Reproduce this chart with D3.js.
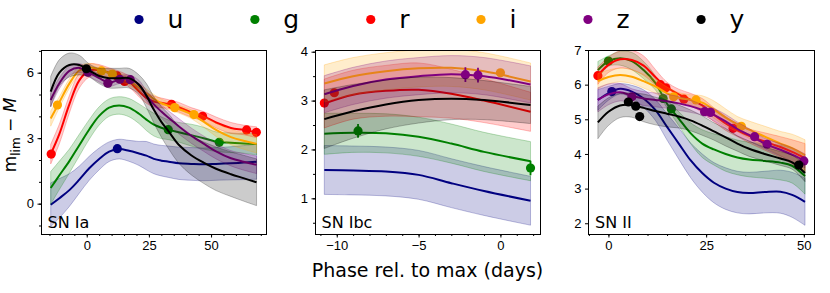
<!DOCTYPE html>
<html lang="en">
<head>
<meta charset="UTF-8">
<title>Limiting magnitude vs phase</title>
<script src="https://cdnjs.cloudflare.com/ajax/libs/d3/7.8.5/d3.min.js"></script>
<style>
  body { margin: 0; background: #fff; }
  svg { display: block; font-family: "DejaVu Sans", sans-serif; }
  .tick text { font-size: 13px; fill: #000; }
  .tick line { stroke: #000; }
  .domain { display: none; }
</style>
</head>
<body>
<svg id="chart" width="830" height="293"></svg>
<script>
const bands = ["u", "g", "r", "i", "z", "y"];
const bandColors = ["#000080", "#008000", "#ff0000", "#ffa500", "#800080", "#000000"];

// SN Ia : GP mean / 1-sigma on a phase grid, plus observed points [phase, mag, err]
const iaPhase = [-14.5, -11, -7, -3, 1, 5, 9, 13, 17, 21, 24, 27, 30, 33, 37, 42, 47, 52, 58, 63, 68.3];
const iaMean = {
  u: [-0.05, 0.25, 0.62, 1.1, 1.62, 2.05, 2.38, 2.5, 2.42, 2.3, 2.2, 2.05, 1.97, 1.92, 1.85, 1.82, 1.8, 1.82, 1.85, 1.88, 1.92],
  g: [0.72, 1.3, 1.95, 2.68, 3.4, 4.02, 4.4, 4.5, 4.4, 4.12, 3.85, 3.62, 3.48, 3.38, 3.27, 3.14, 3.0, 2.84, 2.79, 2.76, 2.73],
  r: [2.27, 3.2, 4.55, 5.65, 6.1, 6.12, 6.0, 5.85, 5.6, 5.15, 4.85, 4.68, 4.62, 4.56, 4.42, 4.18, 4.0, 3.72, 3.47, 3.38, 3.27],
  i: [3.9, 4.65, 5.5, 6.1, 6.25, 6.15, 5.98, 5.8, 5.62, 5.32, 5.05, 4.8, 4.6, 4.48, 4.33, 4.1, 3.76, 3.38, 3.05, 2.88, 2.74],
  z: [4.75, 5.52, 6.08, 6.22, 6.0, 5.75, 5.55, 5.68, 5.72, 5.45, 4.95, 4.55, 4.22, 3.92, 3.55, 3.12, 2.75, 2.4, 2.08, 1.92, 1.78],
  y: [5.13, 6.0, 6.35, 6.35, 6.1, 5.85, 5.75, 5.75, 5.75, 5.45, 4.95, 4.3, 3.75, 3.3, 2.7, 2.22, 1.88, 1.6, 1.35, 1.17, 0.98]
};
const iaSigma = {
  u: [1.0, 0.9, 0.75, 0.62, 0.55, 0.5, 0.45, 0.45, 0.48, 0.55, 0.65, 0.68, 0.7, 0.72, 0.74, 0.75, 0.75, 0.75, 0.76, 0.78, 0.8],
  g: [0.75, 0.65, 0.55, 0.5, 0.45, 0.42, 0.4, 0.4, 0.42, 0.45, 0.5, 0.52, 0.5, 0.45, 0.45, 0.5, 0.5, 0.45, 0.45, 0.45, 0.5],
  r: [0.45, 0.45, 0.4, 0.35, 0.3, 0.25, 0.22, 0.22, 0.25, 0.25, 0.25, 0.25, 0.22, 0.2, 0.22, 0.22, 0.22, 0.25, 0.25, 0.22, 0.25],
  i: [0.35, 0.25, 0.22, 0.2, 0.18, 0.18, 0.18, 0.18, 0.18, 0.18, 0.2, 0.2, 0.2, 0.18, 0.18, 0.2, 0.25, 0.3, 0.35, 0.38, 0.42],
  z: [0.3, 0.25, 0.22, 0.2, 0.18, 0.18, 0.18, 0.18, 0.18, 0.2, 0.22, 0.25, 0.3, 0.32, 0.35, 0.35, 0.35, 0.35, 0.35, 0.38, 0.4],
  y: [0.7, 0.6, 0.55, 0.45, 0.3, 0.35, 0.45, 0.45, 0.45, 0.45, 0.55, 0.6, 0.7, 0.8, 0.85, 0.9, 0.95, 1.0, 1.02, 1.05, 1.07]
};
const iaObs = {
  u: [[12.3, 2.52, 0.05]],
  g: [[32.8, 3.39, 0.05], [53.3, 2.81, 0.05]],
  r: [[-14.3, 2.27, 0.05], [12.2, 5.85, 0.05], [15.2, 5.6, 0.05], [34.1, 4.55, 0.05], [46.6, 4.0, 0.05], [64.3, 3.38, 0.05], [68.2, 3.27, 0.05]],
  i: [[-11.8, 4.52, 0.05], [5.9, 6.08, 0.05], [10.3, 5.94, 0.05], [35.4, 4.4, 0.05], [43.1, 4.08, 0.05]],
  z: [[0.5, 6.02, 0.05], [8.5, 5.52, 0.05], [13.3, 5.7, 0.05], [17.5, 5.68, 0.05]],
  y: [[-0.15, 6.18, 0.05]]
};

// SN Ibc
const ibcPhase = [-10.76, -9, -7, -5, -3, -1, 1.84];
const ibcMean = {
  u: [1.58, 1.57, 1.55, 1.48, 1.31, 1.15, 0.95],
  g: [2.32, 2.34, 2.33, 2.26, 2.12, 1.95, 1.76],
  r: [2.94, 3.12, 3.2, 3.22, 3.14, 3.0, 2.77],
  i: [3.35, 3.5, 3.6, 3.66, 3.67, 3.6, 3.39],
  z: [3.13, 3.3, 3.43, 3.5, 3.54, 3.5, 3.33],
  y: [2.62, 2.78, 2.92, 3.01, 3.04, 3.01, 2.91]
};
const ibcSigma = {
  u: [0.5, 0.5, 0.5, 0.5, 0.5, 0.5, 0.5],
  g: [0.42, 0.4, 0.4, 0.4, 0.4, 0.4, 0.4],
  r: [0.5, 0.5, 0.52, 0.55, 0.5, 0.45, 0.4],
  i: [0.38, 0.38, 0.38, 0.38, 0.38, 0.38, 0.38],
  z: [0.38, 0.38, 0.38, 0.38, 0.38, 0.38, 0.38],
  y: [0.6, 0.55, 0.5, 0.47, 0.43, 0.4, 0.38]
};
const ibcObs = {
  u: [],
  g: [[-8.7, 2.38, 0.14], [1.84, 1.62, 0.15]],
  r: [[-10.76, 2.95, 0.05], [-10.15, 3.16, 0.05]],
  i: [[0.0, 3.57, 0.05]],
  z: [[-2.14, 3.53, 0.15], [-1.37, 3.52, 0.15]],
  y: []
};

// SN II
const iiPhase = [-2.7, 0, 3, 6, 9, 12, 15, 18, 21, 24, 27, 30, 33, 36, 40, 44, 47, 50.3];
const iiMean = {
  u: [5.56, 5.75, 5.88, 5.8, 5.6, 5.27, 4.78, 4.3, 3.82, 3.45, 3.17, 3.0, 2.9, 2.87, 2.9, 2.91, 2.82, 2.62],
  g: [6.42, 6.68, 6.76, 6.68, 6.42, 6.05, 5.45, 5.02, 4.6, 4.3, 4.13, 4.0, 3.9, 3.84, 3.8, 3.75, 3.66, 3.36],
  r: [6.26, 6.57, 6.73, 6.71, 6.55, 6.22, 5.92, 5.72, 5.57, 5.4, 5.13, 4.88, 4.68, 4.52, 4.36, 4.2, 4.06, 3.88],
  i: [6.1, 6.22, 6.28, 6.23, 6.1, 5.95, 5.75, 5.62, 5.56, 5.48, 5.28, 5.05, 4.86, 4.7, 4.5, 4.3, 4.17, 3.96],
  z: [5.56, 5.72, 5.78, 5.68, 5.6, 5.56, 5.52, 5.46, 5.38, 5.27, 5.13, 4.94, 4.72, 4.55, 4.3, 4.12, 3.98, 3.8],
  y: [4.91, 5.22, 5.4, 5.41, 5.33, 5.24, 5.16, 5.08, 4.97, 4.82, 4.65, 4.48, 4.3, 4.15, 4.0, 3.87, 3.76, 3.45]
};
const iiSigma = {
  u: [0.3, 0.2, 0.15, 0.18, 0.25, 0.3, 0.38, 0.45, 0.5, 0.55, 0.58, 0.6, 0.6, 0.6, 0.6, 0.62, 0.65, 0.68],
  g: [0.25, 0.15, 0.2, 0.25, 0.25, 0.2, 0.12, 0.2, 0.3, 0.4, 0.45, 0.5, 0.5, 0.5, 0.5, 0.5, 0.5, 0.52],
  r: [0.25, 0.22, 0.25, 0.28, 0.28, 0.22, 0.15, 0.15, 0.18, 0.2, 0.2, 0.2, 0.18, 0.2, 0.25, 0.3, 0.35, 0.42],
  i: [0.22, 0.2, 0.2, 0.2, 0.2, 0.2, 0.18, 0.15, 0.15, 0.2, 0.25, 0.25, 0.22, 0.25, 0.3, 0.35, 0.4, 0.45],
  z: [0.35, 0.3, 0.25, 0.2, 0.2, 0.2, 0.2, 0.2, 0.18, 0.15, 0.18, 0.2, 0.2, 0.18, 0.15, 0.18, 0.2, 0.2],
  y: [0.47, 0.4, 0.35, 0.35, 0.4, 0.4, 0.38, 0.33, 0.3, 0.28, 0.25, 0.25, 0.22, 0.22, 0.2, 0.2, 0.2, 0.25]
};
const iiObs = {
  u: [[0.87, 5.8, 0.05]],
  g: [[0.0, 6.68, 0.05], [14.0, 5.6, 0.05], [16.1, 5.3, 0.05]],
  r: [[-2.7, 6.26, 0.05], [13.3, 6.0, 0.05], [14.7, 5.91, 0.05], [19.3, 5.58, 0.05], [31.9, 4.74, 0.05]],
  i: [[16.7, 5.65, 0.05], [22.4, 5.56, 0.05], [34.0, 4.8, 0.05]],
  z: [[6.0, 5.65, 0.05], [24.6, 5.22, 0.05], [26.1, 5.2, 0.05], [37.4, 4.5, 0.05], [40.6, 4.28, 0.05], [50.0, 3.8, 0.05]],
  y: [[5.1, 5.5, 0.05], [7.0, 5.38, 0.05], [8.0, 5.08, 0.05], [48.7, 3.68, 0.05]]
};

const panels = [
  { label: "SN Ia", phase: iaPhase, mean: iaMean, sigma: iaSigma, obs: iaObs,
    xDomain: [-18.4, 72.3], yDomain: [-1.39, 7.04],
    xMajor: [0, 25, 50], xMinor: d3.range(-15, 71, 5), yMajor: [0, 3, 6], yMinor: d3.range(-1, 8, 1) },
  { label: "SN Ibc", phase: ibcPhase, mean: ibcMean, sigma: ibcSigma, obs: ibcObs,
    xDomain: [-11.33, 2.45], yDomain: [0.27, 4.035],
    xMajor: [-10, -5, 0], xMinor: d3.range(-11, 3, 1), yMajor: [1, 2, 3, 4], yMinor: d3.range(0.5, 4.01, 0.5) },
  { label: "SN II", phase: iiPhase, mean: iiMean, sigma: iiSigma, obs: iiObs,
    xDomain: [-5.1, 52.6], yDomain: [1.69, 7.0],
    xMajor: [0, 25, 50], xMinor: d3.range(-5, 51, 5), yMajor: [2, 3, 4, 5, 6, 7], yMinor: [] }
];

const svg = d3.select("#chart");
const panelLeft = [41, 315, 588.5];
const panelTop = 50, pw = 225.5, ph = 184;

panels.forEach((p, pi) => {
  const g = svg.append("g").attr("transform", `translate(${panelLeft[pi]},${panelTop})`);
  const x = d3.scaleLinear().domain(p.xDomain).range([0, pw]);
  const y = d3.scaleLinear().domain(p.yDomain).range([ph, 0]);

  g.append("clipPath").attr("id", "clip" + pi)
    .append("rect").attr("width", pw).attr("height", ph);
  const plot = g.append("g").attr("clip-path", `url(#clip${pi})`);

  const curve = d3.curveCatmullRom.alpha(0.5);
  const area = d3.area().curve(curve)
    .x(d => x(d.t)).y0(d => y(d.m - d.s)).y1(d => y(d.m + d.s));
  const line = d3.line().curve(curve).x(d => x(d.t)).y(d => y(d.m));

  bands.forEach((b, k) => {
    const col = bandColors[k];
    const rows = p.phase.map((t, j) => ({ t: t, m: p.mean[b][j], s: p.sigma[b][j] }));
    plot.append("path").datum(rows).attr("d", area)
      .attr("fill", col).attr("fill-opacity", 0.2)
      .attr("stroke", col).attr("stroke-opacity", 0.25).attr("stroke-width", 1);
    plot.append("path").datum(rows).attr("d", line)
      .attr("fill", "none").attr("stroke", col).attr("stroke-width", 2);

    const pts = plot.append("g");
    pts.selectAll("line").data(p.obs[b]).enter().append("line")
      .attr("x1", d => x(d[0])).attr("x2", d => x(d[0]))
      .attr("y1", d => y(d[1] - d[2])).attr("y2", d => y(d[1] + d[2]))
      .attr("stroke", col).attr("stroke-width", 1.8);
    pts.selectAll("circle").data(p.obs[b]).enter().append("circle")
      .attr("cx", d => x(d[0])).attr("cy", d => y(d[1])).attr("r", 4.6)
      .attr("fill", col);
  });

  // ticks
  g.append("g").attr("transform", `translate(0,${ph})`)
    .call(d3.axisBottom(x).tickValues(p.xMinor).tickSize(2).tickSizeOuter(0).tickFormat(""));
  g.append("g").attr("transform", `translate(0,${ph})`)
    .call(d3.axisBottom(x).tickValues(p.xMajor).tickSize(3.5).tickSizeOuter(0).tickPadding(3.5).tickFormat(d3.format("d")));
  g.append("g")
    .call(d3.axisLeft(y).tickValues(p.yMinor).tickSize(2).tickSizeOuter(0).tickFormat(""));
  g.append("g")
    .call(d3.axisLeft(y).tickValues(p.yMajor).tickSize(3.5).tickSizeOuter(0).tickPadding(3.5).tickFormat(d3.format("d")));

  g.append("rect").attr("width", pw).attr("height", ph)
    .attr("fill", "none").attr("stroke", "#000").attr("stroke-width", 1)
    .attr("shape-rendering", "crispEdges");

  g.append("text").attr("x", 6.5).attr("y", ph - 6)
    .attr("font-size", 16).attr("fill", "#000").text(p.label);
});

// axis titles
svg.append("text").attr("x", 427.5).attr("y", 277)
  .attr("text-anchor", "middle").attr("font-size", 19).text("Phase rel. to max (days)");

const ylab = svg.append("text")
  .attr("transform", "translate(16,135) rotate(-90)")
  .attr("text-anchor", "middle").attr("font-size", 17);
ylab.append("tspan").text("m");
ylab.append("tspan").attr("font-size", 12).attr("dy", 3.5).text("lim");
ylab.append("tspan").attr("dy", -3.5).text(" \u2212 ");
ylab.append("tspan").attr("font-style", "italic").text("M");

// legend
const legend = svg.append("g");
let lx = 139;
bands.forEach((b, k) => {
  legend.append("circle").attr("cx", lx).attr("cy", 19.5).attr("r", 4.6).attr("fill", bandColors[k]);
  const t = legend.append("text").attr("x", lx + 28.5).attr("y", 28)
    .attr("font-size", 25).attr("fill", "#000").text(b);
  lx += 100 + t.node().getComputedTextLength();
});
</script>
</body>
</html>
